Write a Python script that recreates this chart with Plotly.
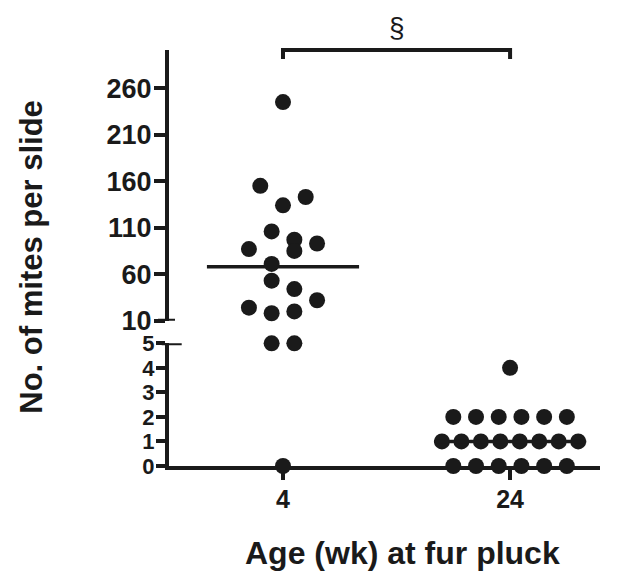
import plotly.graph_objects as go

# ---- data ----
categories = ["4", "24"]
wk4_counts = [245, 155, 143, 134, 106, 97, 93, 87, 85, 71, 53, 44, 32, 24, 20, 18, 5, 5, 0]
wk4_slots = [0, -2, 2, 0, -1, 1, 3, -3, 1, -1, -1, 1, 3, -3, 1, -1, -1, 1, 0]
wk24_counts = [4, 2, 2, 2, 2, 2, 2, 1, 1, 1, 1, 1, 1, 1, 1, 0, 0, 0, 0, 0, 0]
medians = [68, 1]
upper_ticks = [10, 60, 110, 160, 210, 260]
lower_ticks = [0, 1, 2, 3, 4, 5]
sig_label = "§"

BREAK_LOW = 5  # values <= this go to the lower axis segment

# column-scatter offsets (category units)
SLOT = 0.05


def spread_equal(values):
    groups = {}
    for i, v in enumerate(values):
        groups.setdefault(v, []).append(i)
    offs = [0.0] * len(values)
    for v, idx in groups.items():
        n = len(idx)
        if n == 1:
            continue
        step = min(0.1, 0.6 / (n - 1))
        for k, i in enumerate(idx):
            offs[i] = (k - (n - 1) / 2) * step
    return offs


wk4_x = [0 + s * SLOT for s in wk4_slots]
wk24_x = [1 + o for o in spread_equal(wk24_counts)]

all_x = wk4_x + wk24_x
all_y = wk4_counts + wk24_counts

up_x = [x for x, y in zip(all_x, all_y) if y > BREAK_LOW]
up_y = [y for y in all_y if y > BREAK_LOW]
lo_x = [x for x, y in zip(all_x, all_y) if y <= BREAK_LOW]
lo_y = [y for y in all_y if y <= BREAK_LOW]

BLACK = "#1a1a1a"
FONT = "Liberation Sans, Arial, sans-serif"
marker = dict(color=BLACK, size=16, line=dict(width=0))

fig = go.Figure()
fig.add_trace(go.Scatter(x=up_x, y=up_y, mode="markers", marker=marker,
                         xaxis="x", yaxis="y2", cliponaxis=False, showlegend=False))
fig.add_trace(go.Scatter(x=lo_x, y=lo_y, mode="markers", marker=marker,
                         xaxis="x", yaxis="y", cliponaxis=False, showlegend=False))

# median lines
HALF = 0.335
for i, m in enumerate(medians):
    ax = "y2" if m > BREAK_LOW else "y"
    fig.add_trace(go.Scatter(x=[i - HALF, i + HALF], y=[m, m], mode="lines",
                             line=dict(color=BLACK, width=3.5),
                             xaxis="x", yaxis=ax, cliponaxis=False, showlegend=False))

# geometry (page has an 8px body margin, so work in page px minus 8)
OFF = 8
W, H = 620 - OFF, 572 - OFF
L, T = 169 - OFF, 50 - OFF
R = 620 - 600
BOT = 466 - OFF
B = H - BOT
plot_h = BOT - T
plot_w = W - L - R


def py(page_y):
    return (BOT - (page_y - OFF)) / plot_h


def px(page_x):
    return ((page_x - OFF) - L) / plot_w


low_top = py(343.3)
up_bot = py(320.7)

fig.update_layout(
    width=W, height=H,
    margin=dict(l=L, r=R, t=T, b=B),
    paper_bgcolor="white", plot_bgcolor="white",
    showlegend=False,
    xaxis=dict(
        range=[-0.502, 1.396], anchor="y",
        tickvals=[0, 1], ticktext=categories,
        showline=True, linecolor=BLACK, linewidth=4,
        ticks="outside", ticklen=10, tickwidth=4, tickcolor=BLACK,
        showgrid=False, zeroline=False, ticklabelstandoff=-2,
        tickfont=dict(family=FONT, size=25, color=BLACK, weight="bold"),
    ),
    yaxis=dict(
        domain=[0, low_top], range=[0, 5], anchor="x",
        tickvals=lower_ticks,
        showline=True, linecolor=BLACK, linewidth=4,
        ticks="outside", ticklen=9, tickwidth=4, tickcolor=BLACK,
        showgrid=False, zeroline=False, ticklabelstandoff=-3,
        tickfont=dict(family=FONT, size=22, color=BLACK, weight="bold"),
    ),
    yaxis2=dict(
        domain=[up_bot, 1], range=[10, 301], anchor="x",
        tickvals=upper_ticks,
        showline=True, linecolor=BLACK, linewidth=4,
        ticks="outside", ticklen=11, tickwidth=4, tickcolor=BLACK,
        showgrid=False, zeroline=False, ticklabelstandoff=-3,
        tickfont=dict(family=FONT, size=27, color=BLACK, weight="bold"),
    ),
)

# axis break caps
fig.add_shape(type="line", xref="paper", yref="y2", x0=px(158), x1=px(175), y0=10, y1=10,
              line=dict(color=BLACK, width=4))
fig.add_shape(type="line", xref="paper", yref="y", x0=px(161.7), x1=px(181.7), y0=5, y1=5,
              line=dict(color=BLACK, width=4))

# significance bracket
top = 1.0
drop = py(59)
fig.add_shape(type="path", xref="x", yref="paper",
              path=f"M 0 {drop} L 0 {top} L 1 {top} L 1 {drop}",
              line=dict(color=BLACK, width=4))
fig.add_annotation(x=0.5, xref="x", y=py(28), yref="paper",
                   text=sig_label, showarrow=False, yanchor="middle",
                   font=dict(family=FONT, size=28, color=BLACK))

# axis titles
fig.add_annotation(x=px(402), xref="paper", y=py(553), yref="paper",
                   text="Age (wk) at fur pluck", showarrow=False,
                   xanchor="center", yanchor="middle",
                   font=dict(family=FONT, size=32, color=BLACK, weight="bold"))
fig.add_annotation(x=px(32), xref="paper", y=py(256.7), yref="paper",
                   text="No. of mites per slide", showarrow=False, textangle=-90,
                   xanchor="center", yanchor="middle",
                   font=dict(family=FONT, size=31, color=BLACK, weight="bold"))

fig.write_html("out.html")
